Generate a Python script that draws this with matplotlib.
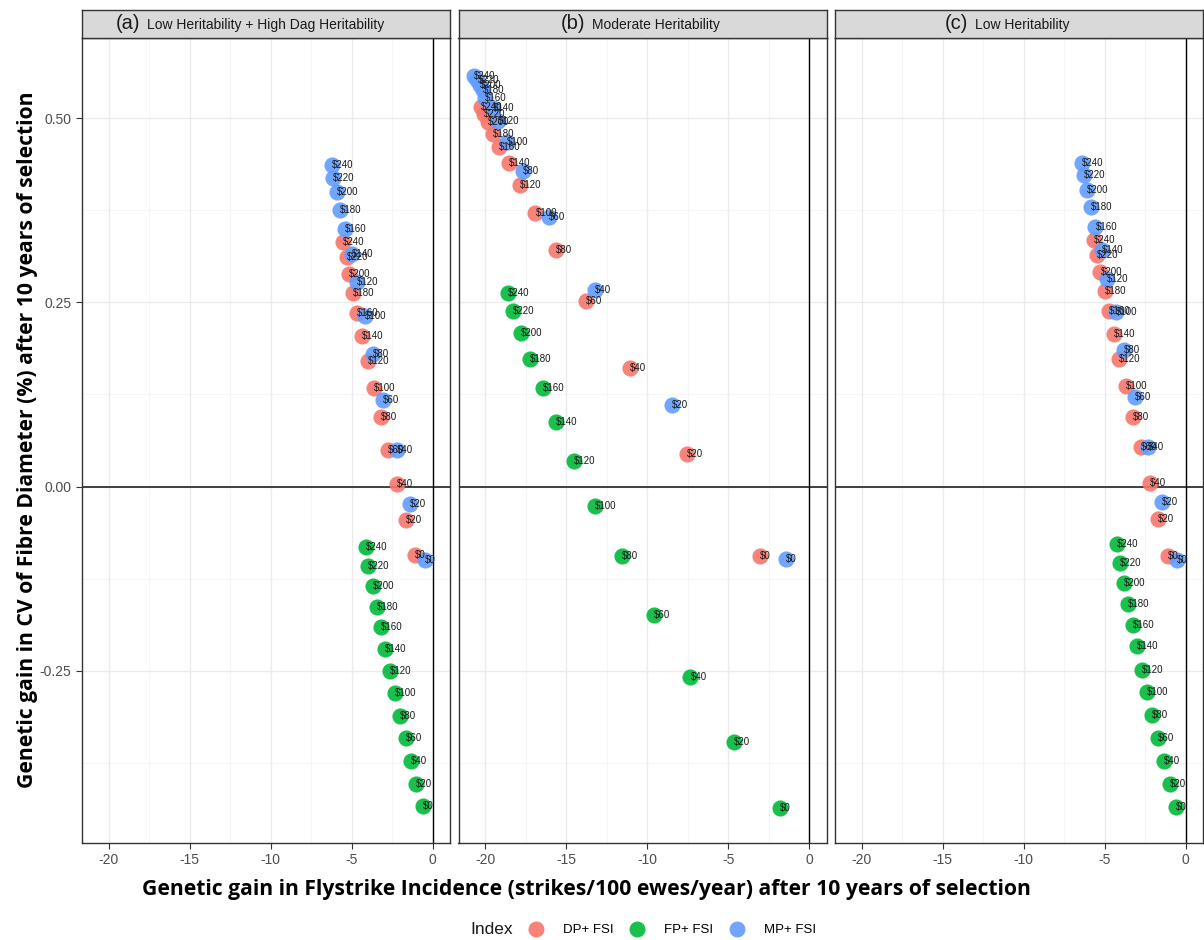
import matplotlib
matplotlib.use("Agg")
import matplotlib.pyplot as plt
from matplotlib.lines import Line2D
from matplotlib.offsetbox import TextArea, HPacker, AnchoredOffsetbox

plt.rcParams['font.family'] = ['Liberation Sans', 'DejaVu Sans']
plt.rcParams['axes.unicode_minus'] = False

# index weights, $0 .. $240
weights = ["$0", "$20", "$40", "$60", "$80", "$100", "$120", "$140",
           "$160", "$180", "$200", "$220", "$240"]

indexes = ["DP+ FSI", "FP+ FSI", "MP+ FSI"]
colours = ["#F8766D", "#00BA38", "#619CFF"]

panel_tags = ["(a)", "(b)", "(c)"]
panel_names = ["Low Heritability + High Dag Heritability",
               "Moderate Heritability",
               "Low Heritability"]

# (a) low heritability + high dag heritability
a_dp_x = [-1.09, -1.67, -2.22, -2.74, -3.21, -3.62, -4.01, -4.34, -4.65, -4.90, -5.15, -5.31, -5.52]
a_dp_y = [-0.093, -0.045, 0.004, 0.050, 0.094, 0.134, 0.170, 0.204, 0.236, 0.263, 0.289, 0.312, 0.332]
a_fp_x = [-0.62, -1.05, -1.36, -1.67, -2.02, -2.33, -2.64, -2.94, -3.21, -3.46, -3.70, -3.97, -4.14]
a_fp_y = [-0.434, -0.404, -0.373, -0.342, -0.312, -0.281, -0.251, -0.2205, -0.191, -0.163, -0.1345, -0.108, -0.082]
a_mp_x = [-0.475, -1.40, -2.22, -3.05, -3.67, -4.18, -4.69, -5.00, -5.41, -5.72, -5.93, -6.13, -6.23]
a_mp_y = [-0.100, -0.024, 0.050, 0.118, 0.180, 0.231, 0.278, 0.316, 0.349, 0.376, 0.400, 0.419, 0.437]

# (b) moderate heritability
b_dp_x = [-3.05, -7.54, -11.09, -13.77, -15.62, -16.90, -17.85, -18.55, -19.13, -19.54, -19.85, -20.06, -20.26]
b_dp_y = [-0.095, 0.044, 0.161, 0.252, 0.321, 0.371, 0.410, 0.439, 0.461, 0.479, 0.495, 0.506, 0.515]
b_fp_x = [-1.81, -4.66, -7.33, -9.60, -11.56, -13.21, -14.53, -15.62, -16.45, -17.21, -17.79, -18.26, -18.61]
b_fp_y = [-0.436, -0.347, -0.259, -0.174, -0.095, -0.027, 0.035, 0.088, 0.134, 0.1735, 0.208, 0.238, 0.263]
b_mp_x = [-1.46, -8.45, -13.25, -16.08, -17.68, -18.63, -19.22, -19.55, -20.04, -20.15, -20.30, -20.48, -20.67]
b_mp_y = [-0.099, 0.111, 0.267, 0.366, 0.428, 0.468, 0.496, 0.514, 0.528, 0.538, 0.545, 0.552, 0.558]

# (c) low heritability
c_dp_x = [-1.08, -1.69, -2.23, -2.78, -3.24, -3.67, -4.12, -4.43, -4.74, -5.01, -5.26, -5.50, -5.67]
c_dp_y = [-0.095, -0.044, 0.005, 0.053, 0.095, 0.136, 0.1735, 0.2075, 0.239, 0.266, 0.291, 0.314, 0.335]
c_fp_x = [-0.62, -0.99, -1.34, -1.71, -2.07, -2.37, -2.68, -2.99, -3.26, -3.55, -3.82, -4.06, -4.23]
c_fp_y = [-0.435, -0.404, -0.372, -0.341, -0.310, -0.279, -0.249, -0.217, -0.188, -0.159, -0.131, -0.104, -0.078]
c_mp_x = [-0.52, -1.48, -2.31, -3.14, -3.82, -4.33, -4.85, -5.16, -5.57, -5.84, -6.08, -6.29, -6.43]
c_mp_y = [-0.0996, -0.021, 0.054, 0.122, 0.186, 0.237, 0.282, 0.321, 0.352, 0.380, 0.402, 0.423, 0.439]

panels = [
    [(a_dp_x, a_dp_y), (a_fp_x, a_fp_y), (a_mp_x, a_mp_y)],
    [(b_dp_x, b_dp_y), (b_fp_x, b_fp_y), (b_mp_x, b_mp_y)],
    [(c_dp_x, c_dp_y), (c_fp_x, c_fp_y), (c_mp_x, c_mp_y)],
]

x_ticks = [-20, -15, -10, -5, 0]
y_ticks = [-0.25, 0.00, 0.25, 0.50]

W, H = 1204, 940
fig = plt.figure(figsize=(W / 100, H / 100), dpi=100)

# panel boxes in pixels
lefts = [82, 458.5, 835]
pw = 368
top, bottom = 38, 843
strip_top = 9.5
# the strip titles sit a little left of centre in the original
strip_shift = [-16, -2, -12]

for i in range(3):
    ax = fig.add_axes([lefts[i] / W, 1 - bottom / H, pw / W, (bottom - top) / H])
    ax.set_xlim(-21.65, 1.07)
    ax.set_ylim(-0.484, 0.609)

    # grid like theme_bw
    for v in [-17.5, -12.5, -7.5, -2.5]:
        ax.axvline(v, color="#F4F4F4", lw=0.6, zorder=0)
    for v in [-0.375, -0.125, 0.125, 0.375]:
        ax.axhline(v, color="#F4F4F4", lw=0.6, zorder=0)
    for v in x_ticks:
        ax.axvline(v, color="#EBEBEB", lw=1.0, zorder=0)
    for v in y_ticks:
        ax.axhline(v, color="#EBEBEB", lw=1.0, zorder=0)

    ax.axhline(0, color="#222222", lw=1.2, zorder=1)
    ax.axvline(0, color="black", lw=1.0, zorder=1)

    for (xs, ys), col in zip(panels[i], colours):
        ax.scatter(xs, ys, s=135, color=col, alpha=0.9, linewidths=0, zorder=2)
    for (xs, ys) in panels[i]:
        for x, y, lab in zip(xs, ys, weights):
            ax.text(x, y, lab, fontsize=7, color="#1A1A1A", ha="left", va="center", zorder=3)

    ax.set_xticks(x_ticks)
    ax.set_xticklabels([str(t) for t in x_ticks])
    ax.set_yticks(y_ticks)
    ax.tick_params(colors="#333333", labelcolor="#4D4D4D", labelsize=10, length=4, width=0.8)
    if i == 0:
        ax.set_yticklabels(["-0.25", "0.00", "0.25", "0.50"])
    else:
        ax.set_yticklabels([])
        ax.tick_params(axis="y", length=0)
    for sp in ax.spines.values():
        sp.set_color("#333333")
        sp.set_linewidth(1.0)

    # strip on top of the panel
    sx = fig.add_axes([lefts[i] / W, 1 - top / H, pw / W, (top - strip_top) / H])
    sx.set_facecolor("#D9D9D9")
    sx.set_xticks([])
    sx.set_yticks([])
    for sp in sx.spines.values():
        sp.set_color("#333333")
        sp.set_linewidth(1.0)
    tag = TextArea(panel_tags[i], textprops=dict(fontsize=14.5, color="#1A1A1A"))
    name = TextArea(panel_names[i], textprops=dict(fontsize=10, color="#1A1A1A"))
    box = HPacker(children=[tag, name], align="baseline", pad=0, sep=5)
    anchored = AnchoredOffsetbox(loc="center", child=box, frameon=False,
                                 bbox_to_anchor=(0.5 + strip_shift[i] / pw, 0.5),
                                 bbox_transform=sx.transAxes, borderpad=0, pad=0)
    sx.add_artist(anchored)

# axis titles
fig.text(586 / W, 1 - 889 / H,
         "Genetic gain in Flystrike Incidence (strikes/100 ewes/year) after 10 years of selection",
         ha="center", va="center", fontsize=15.2, fontweight="bold", family="Open Sans")
fig.text(28 / W, 1 - 440 / H,
         "Genetic gain in CV of Fibre Diameter (%) after 10 years of selection",
         ha="center", va="center", rotation=90, fontsize=15.2, fontweight="bold", family="Open Sans")

# legend at the bottom
fig.text(470 / W, 1 - 930 / H, "Index", ha="left", va="center", fontsize=12.5, color="#1A1A1A")
handles = [Line2D([], [], marker="o", ls="", markersize=11.5, color=c, alpha=0.9, markeredgewidth=0)
           for c in colours]
fig.legend(handles, indexes, loc="center left", bbox_to_anchor=(528 / W, 1 - 930 / H),
           ncol=3, frameon=False, fontsize=9.5, handletextpad=1.45, columnspacing=1.2,
           borderaxespad=0, borderpad=0, handlelength=1.2)

fig.savefig("out.png", dpi=100)
